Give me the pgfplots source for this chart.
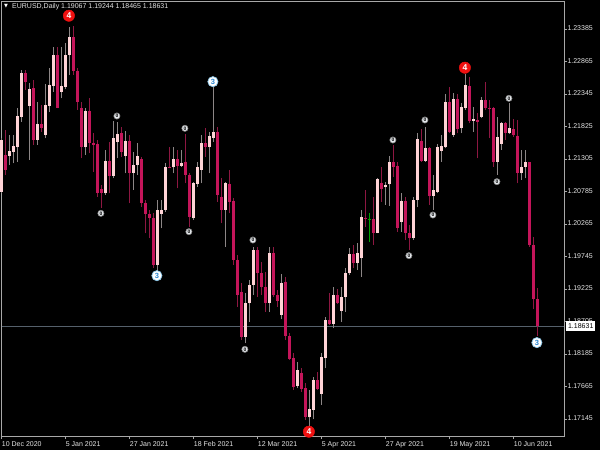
\documentclass[border=0pt]{standalone}
\usepackage{fontspec}
\setmainfont{Liberation Sans}
\newfontfamily\dejavu{DejaVu Sans}
\usepackage{pgfplots}
\usepackage{pgfplotstable}
\pgfplotsset{compat=1.18}

\definecolor{bullbody}{HTML}{FFD3D6}
\definecolor{bearbody}{HTML}{C4155A}
\definecolor{bullwick}{HTML}{8C8686}
\definecolor{bearwick}{HTML}{8E1742}
\definecolor{framegray}{HTML}{A8A8A8}
\definecolor{labelc}{HTML}{E4E4E4}
\definecolor{priceline}{HTML}{55606B}
\definecolor{mtred}{HTML}{F01010}
\definecolor{threeblue}{HTML}{2A86D0}
\definecolor{threering}{HTML}{8CC8EA}
\definecolor{zerofill}{HTML}{E6EAEE}
\definecolor{zerodraw}{HTML}{8A8A8A}
\definecolor{dojigreen}{HTML}{00A000}

\pgfplotstableread{
x o h l c
0 1.20782 1.21636 1.20755 1.21609
2 1.21353 1.21689 1.21209 1.21433
3 1.21423 1.21689 1.21236 1.21513
4 1.21492 1.22116 1.21263 1.21993
5 1.21982 1.22729 1.21902 1.22686
7 1.22153 1.22526 1.21289 1.22419
9 1.21609 1.22222 1.21529 1.21860
11 1.21689 1.22505 1.21636 1.22169
12 1.22153 1.22755 1.22062 1.22489
13 1.22473 1.23103 1.22382 1.22969
15 1.22382 1.23103 1.22275 1.22473
16 1.22462 1.23156 1.22419 1.22969
17 1.22969 1.23422 1.22649 1.23252
21 1.21492 1.22116 1.21369 1.22073
26 1.20755 1.21449 1.20729 1.21279
28 1.21033 1.21913 1.20995 1.21647
29 1.21583 1.21902 1.21316 1.21705
31 1.21353 1.21758 1.21075 1.21593
33 1.21086 1.21423 1.20809 1.21209
34 1.21209 1.21556 1.21049 1.21353
39 1.19609 1.20649 1.19502 1.20489
40 1.20425 1.20649 1.20196 1.20489
41 1.20489 1.21236 1.20462 1.21182
43 1.21171 1.21503 1.21075 1.21300
45 1.21193 1.21449 1.21182 1.21236
48 1.20356 1.20942 1.20329 1.20915
49 1.20905 1.21263 1.20862 1.21182
50 1.21129 1.21689 1.20915 1.21556
52 1.21503 1.21742 1.21075 1.21673
53 1.21636 1.22451 1.21583 1.21742
56 1.20489 1.20942 1.19903 1.20915
61 1.18463 1.19155 1.18356 1.18996
62 1.18996 1.19369 1.18702 1.19289
63 1.19289 1.19903 1.19129 1.19849
67 1.19006 1.19903 1.18862 1.19807
70 1.18809 1.19465 1.18740 1.19326
74 1.17673 1.18063 1.17635 1.17929
77 1.17172 1.17609 1.17022 1.17300
78 1.17289 1.17822 1.17140 1.17769
80 1.17545 1.18196 1.17369 1.18132
81 1.18116 1.18782 1.17955 1.18729
83 1.18665 1.19262 1.18596 1.19129
85 1.18879 1.19262 1.18702 1.19093
86 1.19093 1.19555 1.18862 1.19475
87 1.19475 1.19876 1.19449 1.19785
89 1.19647 1.19956 1.19529 1.19807
90 1.19716 1.20489 1.19422 1.20372
94 1.20127 1.20995 1.20116 1.20979
96 1.20851 1.20942 1.20569 1.20889
97 1.20899 1.21353 1.20553 1.21252
100 1.20302 1.20755 1.20142 1.20633
103 1.20036 1.20702 1.20009 1.20649
104 1.20649 1.21716 1.20532 1.21620
106 1.21279 1.21822 1.21263 1.21476
108 1.20713 1.21049 1.20489 1.20809
109 1.20782 1.21545 1.20755 1.21503
110 1.21439 1.21689 1.21263 1.21513
111 1.21492 1.22339 1.21476 1.22222
113 1.21689 1.22355 1.21663 1.22265
115 1.21796 1.22196 1.21716 1.22142
116 1.22116 1.22665 1.22089 1.22489
118 1.21913 1.22142 1.21742 1.21945
120 1.21982 1.22302 1.21956 1.22249
124 1.21263 1.21982 1.21049 1.21663
125 1.21545 1.21902 1.21449 1.21886
127 1.21716 1.22196 1.21705 1.21806
130 1.21075 1.21449 1.20969 1.21182
131 1.21182 1.21449 1.20995 1.21263
}\bull

\pgfplotstableread{
x o h l c
1 1.21369 1.21769 1.21049 1.21129
6 1.22675 1.22729 1.22409 1.22542
8 1.22435 1.22569 1.21529 1.21609
10 1.21860 1.22169 1.21742 1.21806
14 1.22969 1.23103 1.22116 1.22126
18 1.23252 1.23433 1.22649 1.22718
19 1.22718 1.22755 1.22089 1.22212
20 1.22116 1.22222 1.21316 1.21492
22 1.22073 1.22286 1.21396 1.21567
23 1.21567 1.21716 1.21102 1.21529
24 1.21545 1.21609 1.20702 1.20755
25 1.20819 1.20889 1.20516 1.20755
27 1.21279 1.21583 1.20755 1.21033
30 1.21716 1.21822 1.21343 1.21423
32 1.21599 1.21689 1.20596 1.21086
35 1.21300 1.21343 1.20542 1.20596
36 1.20596 1.20649 1.20116 1.20425
37 1.20425 1.20489 1.20036 1.20356
38 1.20356 1.20436 1.19555 1.19609
42 1.21182 1.21503 1.21155 1.21166
44 1.21300 1.21449 1.20835 1.21193
46 1.21263 1.21700 1.20915 1.21049
47 1.21049 1.21075 1.20222 1.20372
51 1.21556 1.21796 1.21343 1.21492
54 1.21742 1.21822 1.20622 1.20729
55 1.20702 1.20995 1.20276 1.20489
57 1.20905 1.21129 1.20436 1.20622
58 1.20638 1.20676 1.19609 1.19689
59 1.19689 1.19769 1.18942 1.19129
60 1.19182 1.19315 1.18409 1.18463
64 1.19849 1.19903 1.19102 1.19475
65 1.19475 1.19662 1.19129 1.19262
66 1.19262 1.19502 1.18862 1.19006
68 1.19807 1.19903 1.19102 1.19129
69 1.19129 1.19209 1.18942 1.19038
71 1.19342 1.19411 1.18409 1.18473
72 1.18473 1.18516 1.18089 1.18100
73 1.18127 1.18196 1.17609 1.17662
75 1.17886 1.17955 1.17582 1.17619
76 1.17635 1.17715 1.17129 1.17172
79 1.17769 1.17902 1.17609 1.17619
82 1.18729 1.19155 1.18649 1.18665
84 1.19129 1.19232 1.18985 1.18996
88 1.19785 1.19929 1.19555 1.19647
91 1.20366 1.20809 1.20222 1.20340
93 1.20340 1.20702 1.19929 1.20127
95 1.20926 1.21182 1.20622 1.20819
98 1.21252 1.21529 1.21022 1.21182
99 1.21193 1.21263 1.20142 1.20196
101 1.20633 1.20702 1.20009 1.20116
102 1.20116 1.20249 1.19849 1.20036
105 1.21599 1.21779 1.21263 1.21279
107 1.21476 1.21503 1.20569 1.20713
112 1.22222 1.22451 1.21716 1.21742
114 1.22265 1.22339 1.21716 1.21780
117 1.22473 1.22622 1.21876 1.21918
119 1.21929 1.22046 1.21316 1.21902
121 1.22249 1.22542 1.22089 1.22116
122 1.22126 1.22249 1.21636 1.22099
123 1.22116 1.22132 1.21182 1.21263
126 1.21886 1.21902 1.21609 1.21716
128 1.21780 1.21940 1.21663 1.21689
129 1.21673 1.21929 1.20915 1.21075
132 1.21252 1.21263 1.19903 1.19929
133 1.19929 1.20052 1.18900 1.19067
134 1.19067 1.19244 1.18465 1.18631
}\bear

\pgfplotstableread{
x o h l c
92 1.20337 1.20436 1.19983 1.20343
}\doji

\begin{document}
\begin{tikzpicture}
\fill[black] (0,0) rectangle (600pt,450pt);
\begin{axis}[
  at={(1.7pt,14pt)}, anchor=south west,
  scale only axis, width=562.6pt, height=435pt,
  xmin=0, xmax=140.65, ymin=1.16873, ymax=1.23833,
  clip=false,
  axis line style={draw=framegray, line width=0.9pt},
  xtick={0,16,32,48,64,80,96,112,128},
  xticklabels={10 Dec 2020,5 Jan 2021,27 Jan 2021,18 Feb 2021,12 Mar 2021,5 Apr 2021,27 Apr 2021,19 May 2021,10 Jun 2021},
  ytick={1.17145,1.17665,1.18185,1.18705,1.19225,1.19745,1.20265,1.20785,1.21305,1.21825,1.22345,1.22865,1.23385},
  yticklabels={1.17145,1.17665,1.18185,1.18705,1.19225,1.19745,1.20265,1.20785,1.21305,1.21825,1.22345,1.22865,1.23385},
  xtick pos=left, ytick pos=right, yticklabel pos=right,
  tick align=outside, major tick length=3pt,
  tick style={draw=framegray, line width=0.8pt},
  typeset ticklabels with strut,
  ticklabel style={font=\fontsize{7}{8}\selectfont, text=labelc},
  xticklabel style={anchor=north west, inner sep=0pt, yshift=-2pt},
  yticklabel style={anchor=west, inner sep=0pt},
]
% current price line
\addplot[draw=priceline, line width=0.9pt] coordinates {(0,1.18631) (140.65,1.18631)};
% wicks
\addplot[draw=bullwick, line width=1pt, mark=none, quiver={u=0, v=\thisrow{h}-\thisrow{l}}]
  table[x=x, y=l] {\bull};
\addplot[draw=bearwick, line width=1pt, mark=none, quiver={u=0, v=\thisrow{h}-\thisrow{l}}]
  table[x=x, y=l] {\bear};
\addplot[draw=dojigreen, line width=1pt, mark=none, quiver={u=0, v=\thisrow{h}-\thisrow{l}}]
  table[x=x, y=l] {\doji};
% bodies
\addplot[draw=bullbody, line width=3pt, mark=none, quiver={u=0, v=\thisrow{c}-\thisrow{o}}]
  table[x=x, y=o] {\bull};
\addplot[draw=bearbody, line width=3pt, mark=none, quiver={u=0, v=\thisrow{c}-\thisrow{o}}]
  table[x=x, y=o] {\bear};
\addplot[draw=dojigreen, line width=3pt, mark=none, quiver={u=0, v=\thisrow{c}-\thisrow{o}}]
  table[x=x, y=o] {\doji};
% small 0 markers
\addplot[only marks, mark=*, mark size=3.1pt, mark options={fill=zerofill, draw=zerodraw, line width=0.6pt}]
  coordinates {(24.8,1.20436) (28.8,1.21993) (45.8,1.21796) (46.8,1.20142) (60.8,1.18260) (62.8,1.20009)
  (97.8,1.21609) (101.8,1.19759) (105.8,1.21929) (107.8,1.20409) (123.8,1.20942) (126.8,1.22276)};
\addplot[only marks, color=black, mark=text, text mark={0}, text mark as node=true,
  text mark style={font=\fontsize{5}{5}\selectfont\bfseries, text=black, inner sep=0pt}]
  coordinates {(24.8,1.20436) (28.8,1.21993) (45.8,1.21796) (46.8,1.20142) (60.8,1.18260) (62.8,1.20009)
  (97.8,1.21609) (101.8,1.19759) (105.8,1.21929) (107.8,1.20409) (123.8,1.20942) (126.8,1.22276)};
% 3 markers
\addplot[only marks, mark=*, mark size=5.1pt, mark options={fill=white, draw=threering, line width=0.7pt}]
  coordinates {(38.8,1.19438) (52.8,1.22542) (133.8,1.18367)};
\addplot[only marks, color=threeblue, mark=text, text mark={3}, text mark as node=true,
  text mark style={font=\fontsize{7.5}{7.5}\selectfont\bfseries, text=threeblue, inner sep=0pt}]
  coordinates {(38.8,1.19438) (52.8,1.22542) (133.8,1.18367)};
% 4 markers
\addplot[only marks, mark=*, mark size=5.7pt, mark options={fill=mtred, draw=mtred}]
  coordinates {(16.8,1.23598) (76.8,1.16942) (115.8,1.22766)};
\addplot[only marks, color=white, mark=text, text mark={4}, text mark as node=true,
  text mark style={font=\fontsize{8.5}{8.5}\selectfont\bfseries, text=white, inner sep=0pt}]
  coordinates {(16.8,1.23598) (76.8,1.16942) (115.8,1.22766)};
\coordinate (pb) at (axis cs:140.65,1.18631);
\end{axis}
\node[fill=white, text=black, anchor=west, inner xsep=2pt, inner ysep=1.2pt, minimum height=10pt,
  font=\fontsize{7}{8}\selectfont] at ([xshift=1.6pt]pb) {1.18631};
\node[anchor=center, inner sep=0pt, text=white, font=\dejavu\fontsize{5}{5}\selectfont] at (6pt,443.5pt) {▼};
\node[anchor=west, inner sep=0pt, text=labelc, font=\fontsize{7}{8}\selectfont] at (12pt,443pt)
  {EURUSD,Daily 1.19067 1.19244 1.18465 1.18631};
\end{tikzpicture}
\end{document}
